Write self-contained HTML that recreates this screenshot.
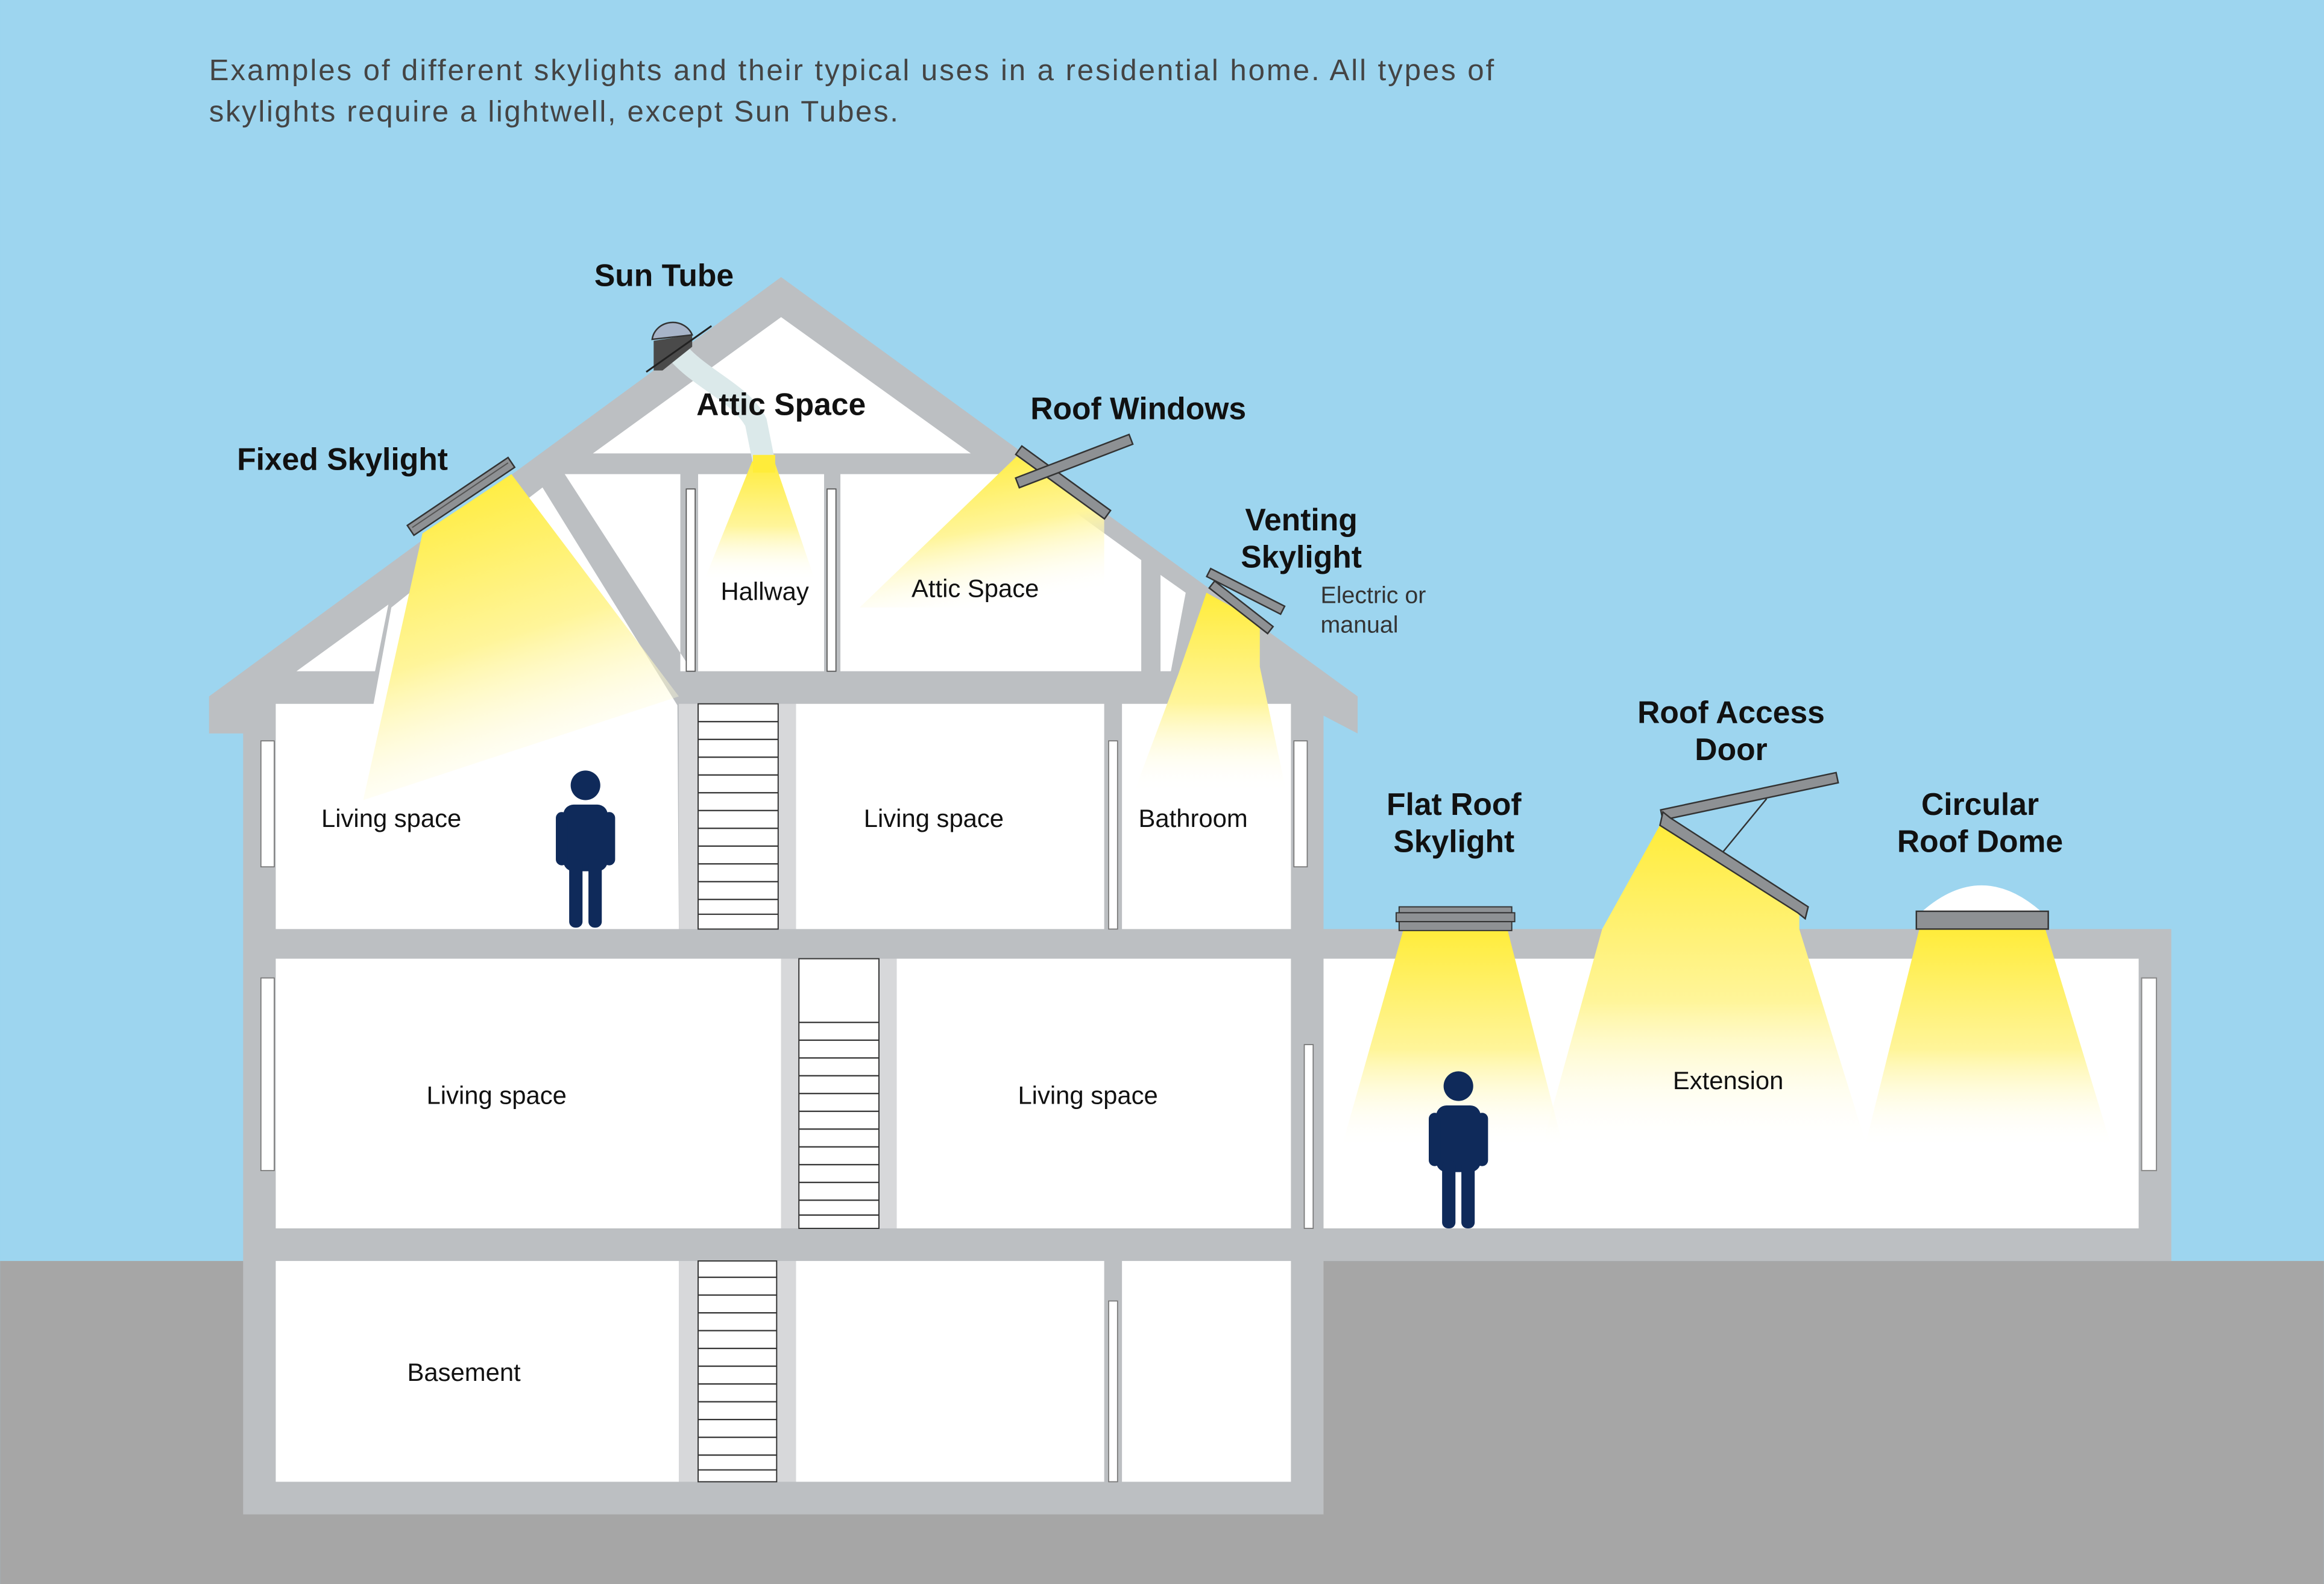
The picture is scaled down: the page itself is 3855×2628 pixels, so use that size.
<!DOCTYPE html>
<html><head><meta charset="utf-8"><style>
html,body{margin:0;padding:0;background:#9dd5ef;}
svg{display:block;}
text{font-family:"Liberation Sans",sans-serif;}
</style></head><body>
<svg width="3855" height="2628" viewBox="0 0 1568 1069" xmlns="http://www.w3.org/2000/svg">
<defs>
<linearGradient id="y" x1="0" y1="0" x2="0" y2="1">
<stop offset="0" stop-color="#ffec3a"/><stop offset="0.55" stop-color="#fff59a"/><stop offset="1" stop-color="#ffffff" stop-opacity="0"/>
</linearGradient>
<linearGradient id="yd" x1="0.3" y1="0" x2="0.6" y2="1">
<stop offset="0" stop-color="#ffec3a"/><stop offset="0.5" stop-color="#fff59a"/><stop offset="1" stop-color="#ffffff" stop-opacity="0"/>
</linearGradient>
</defs>
<rect x="0" y="0" width="1568" height="1069" fill="#9dd5ef"/>
<rect x="0" y="851" width="1568" height="218" fill="#a6a6a6"/>

<text x="141" y="54" font-size="20" fill="#444" textLength="867" lengthAdjust="spacing">Examples of different skylights and their typical uses in a residential home. All types of</text>
<text x="141" y="82" font-size="20" fill="#444" textLength="465" lengthAdjust="spacing">skylights require a lightwell, except Sun Tubes.</text>

<polygon points="141,470 527,187 916,470 916,495 893,483 893,1022 164,1022 164,495 141,495" fill="#bcbfc2"/>
<rect x="871" y="627" width="594" height="224" fill="#bcbfc2"/>
<rect x="893" y="647" width="550" height="182" fill="#fff"/>
<rect x="1445" y="660" width="10" height="130" fill="#fff" stroke="#888" stroke-width="0.8"/>

<polygon points="400,306 527,214 655,306" fill="#fff"/>
<polygon points="186,627 186,475 252,475 264,410 345,345 366,329 457,476 458,627" fill="#fff"/>
<polygon points="200,453 262,408 253,453" fill="#fff"/>
<polygon points="381,320 459,320 459,453 467,453" fill="#fff"/>
<rect x="471" y="320" width="85" height="133" fill="#fff"/>
<polygon points="567,320 690,320 770,378 770,453 567,453" fill="#fff"/>
<polygon points="783,388 800,400 790,453 783,453" fill="#fff"/>
<rect x="463" y="330" width="6" height="123" fill="#fff" stroke="#555" stroke-width="0.7"/>
<rect x="558" y="330" width="6" height="123" fill="#fff" stroke="#555" stroke-width="0.7"/>
<rect x="537" y="475" width="208" height="152" fill="#fff"/>
<rect x="757" y="475" width="114" height="152" fill="#fff"/>
<rect x="748" y="500" width="6" height="127" fill="#fff" stroke="#777" stroke-width="0.7"/>
<rect x="873" y="500" width="9" height="85" fill="#fff" stroke="#777" stroke-width="0.7"/>
<rect x="176" y="500" width="9" height="85" fill="#fff" stroke="#777" stroke-width="0.7"/>
<rect x="458" y="475" width="79" height="152" fill="#d7d8da"/>
<rect x="471" y="475" width="54" height="152" fill="#fff" stroke="#333" stroke-width="0.8"/>
<rect x="186" y="647" width="341" height="182" fill="#fff"/>
<rect x="605" y="647" width="266" height="182" fill="#fff"/>
<rect x="527" y="647" width="78" height="182" fill="#d7d8da"/>
<rect x="539" y="647" width="54" height="182" fill="#fff" stroke="#333" stroke-width="0.8"/>
<rect x="176" y="660" width="9" height="130" fill="#fff" stroke="#777" stroke-width="0.7"/>
<rect x="880" y="705" width="6" height="124" fill="#fff" stroke="#777" stroke-width="0.7"/>
<rect x="186" y="851" width="272" height="149" fill="#fff"/>
<rect x="537" y="851" width="208" height="149" fill="#fff"/>
<rect x="757" y="851" width="114" height="149" fill="#fff"/>
<rect x="458" y="851" width="79" height="149" fill="#d7d8da"/>
<rect x="471" y="851" width="53" height="149" fill="#fff" stroke="#333" stroke-width="0.8"/>
<rect x="748" y="878" width="6" height="122" fill="#fff" stroke="#777" stroke-width="0.7"/>

<g stroke="#333" stroke-width="0.9">
<line x1="471" y1="487" x2="525" y2="487"/><line x1="471" y1="499" x2="525" y2="499"/><line x1="471" y1="511" x2="525" y2="511"/><line x1="471" y1="523" x2="525" y2="523"/><line x1="471" y1="535" x2="525" y2="535"/><line x1="471" y1="547" x2="525" y2="547"/><line x1="471" y1="559" x2="525" y2="559"/><line x1="471" y1="571" x2="525" y2="571"/><line x1="471" y1="583" x2="525" y2="583"/><line x1="471" y1="595" x2="525" y2="595"/><line x1="471" y1="607" x2="525" y2="607"/><line x1="471" y1="617" x2="525" y2="617"/>
<line x1="539" y1="690" x2="593" y2="690"/><line x1="539" y1="702" x2="593" y2="702"/><line x1="539" y1="714" x2="593" y2="714"/><line x1="539" y1="726" x2="593" y2="726"/><line x1="539" y1="738" x2="593" y2="738"/><line x1="539" y1="750" x2="593" y2="750"/><line x1="539" y1="762" x2="593" y2="762"/><line x1="539" y1="774" x2="593" y2="774"/><line x1="539" y1="786" x2="593" y2="786"/><line x1="539" y1="798" x2="593" y2="798"/><line x1="539" y1="810" x2="593" y2="810"/><line x1="539" y1="820" x2="593" y2="820"/>
<line x1="471" y1="862" x2="524" y2="862"/><line x1="471" y1="874" x2="524" y2="874"/><line x1="471" y1="886" x2="524" y2="886"/><line x1="471" y1="898" x2="524" y2="898"/><line x1="471" y1="910" x2="524" y2="910"/><line x1="471" y1="922" x2="524" y2="922"/><line x1="471" y1="934" x2="524" y2="934"/><line x1="471" y1="946" x2="524" y2="946"/><line x1="471" y1="958" x2="524" y2="958"/><line x1="471" y1="970" x2="524" y2="970"/><line x1="471" y1="982" x2="524" y2="982"/><line x1="471" y1="992" x2="524" y2="992"/>
</g>

<polygon points="285,360 345,320 458,470 245,540" fill="url(#yd)"/>
<polygon points="508,310 522,310 550,392 475,392" fill="url(#y)"/>
<polygon points="686,308 745,350 745,410 580,410" fill="url(#yd)"/>
<polygon points="814,400 850,420 850,450 868,535 765,535 795,455" fill="url(#y)"/>
<polygon points="947,627 1017,627 1055,775 905,775" fill="url(#y)"/>
<polygon points="1121,555 1214,617 1214,627 1260,775 1040,775 1081,627" fill="url(#y)"/>
<polygon points="1295,627 1380,627 1425,775 1258,775" fill="url(#y)"/>

<path d="M455,235 C470,255 500,265 510,285 L515,310" stroke="#dbe9ea" stroke-width="15" fill="none"/>
<polygon points="441,230 467,226 467,234 447,250 441,250" fill="#4a4a4a"/>
<line x1="436" y1="251" x2="480" y2="220" stroke="#222" stroke-width="1.2"/>
<path d="M440,229 A14,13 0 0 1 467,226 Z" fill="#a7b4c8" stroke="#333" stroke-width="1"/>
<rect x="508" y="307" width="15" height="12" fill="#ffec3a"/>

<g transform="rotate(-34 311 335)"><rect x="270" y="331" width="82" height="8" fill="#8e9194" stroke="#333" stroke-width="1"/><line x1="272" y1="334" x2="350" y2="334" stroke="#555" stroke-width="0.8"/></g>
<g transform="rotate(36 717 326)"><rect x="680" y="322" width="74" height="7" fill="#8e9194" stroke="#333" stroke-width="1"/></g>
<g transform="rotate(-21 724 312)"><rect x="684" y="308" width="82" height="7" fill="#8e9194" stroke="#333" stroke-width="1"/></g>
<g transform="rotate(27 840 400)"><rect x="812" y="396" width="56" height="6" fill="#8e9194" stroke="#333" stroke-width="1"/></g>
<g transform="rotate(38 836 410)"><rect x="812" y="406" width="50" height="6" fill="#8e9194" stroke="#333" stroke-width="1"/></g>

<rect x="944" y="612" width="76" height="4" fill="#8e9194" stroke="#333" stroke-width="0.8"/>
<rect x="942" y="616" width="80" height="6" fill="#8e9194" stroke="#333" stroke-width="0.8"/>
<rect x="944" y="622" width="76" height="6" fill="#8e9194" stroke="#333" stroke-width="0.8"/>
<g transform="rotate(-12 1180 538)"><rect x="1120" y="534" width="121" height="7" fill="#8e9194" stroke="#333" stroke-width="1"/></g>
<line x1="1192" y1="539" x2="1160" y2="578" stroke="#333" stroke-width="1"/>
<polygon points="1122,548 1127,552 1220,612 1218,620 1213,616 1120,557" fill="#8e9194" stroke="#333" stroke-width="1"/>
<path d="M1297,615 Q1337,580 1377,615 Z" fill="#fff"/>
<rect x="1293" y="615" width="89" height="12" fill="#8e9194" stroke="#333" stroke-width="1"/>

<g fill="#0f2a5a">
<circle cx="395" cy="530" r="10"/>
<rect x="380" y="543" width="30" height="45" rx="7"/>
<rect x="375" y="548" width="8" height="36" rx="4"/><rect x="407" y="548" width="8" height="36" rx="4"/>
<rect x="384" y="580" width="9" height="46" rx="4"/><rect x="397" y="580" width="9" height="46" rx="4"/>
<circle cx="984" cy="733" r="10"/>
<rect x="969" y="746" width="30" height="45" rx="7"/>
<rect x="964" y="751" width="8" height="36" rx="4"/><rect x="996" y="751" width="8" height="36" rx="4"/>
<rect x="973" y="783" width="9" height="46" rx="4"/><rect x="986" y="783" width="9" height="46" rx="4"/>
</g>

<g font-weight="bold" font-size="21" fill="#111" text-anchor="middle">
<text x="448" y="193">Sun Tube</text>
<text x="231" y="317">Fixed Skylight</text>
<text x="768" y="283">Roof Windows</text>
<text x="878" y="358">Venting</text><text x="878" y="383">Skylight</text>
<text x="1168" y="488">Roof Access</text><text x="1168" y="513">Door</text>
<text x="981" y="550">Flat Roof</text><text x="981" y="575">Skylight</text>
<text x="1336" y="550">Circular</text><text x="1336" y="575">Roof Dome</text>
</g>
<text x="527" y="280" font-size="21" fill="#111" text-anchor="middle" font-weight="bold">Attic Space</text>
<text x="891" y="407" font-size="16" fill="#333">Electric or</text>
<text x="891" y="427" font-size="16" fill="#333">manual</text>
<g font-size="17" fill="#111" text-anchor="middle">
<text x="516" y="405">Hallway</text>
<text x="658" y="403">Attic Space</text>
<text x="264" y="558">Living space</text>
<text x="630" y="558">Living space</text>
<text x="805" y="558">Bathroom</text>
<text x="335" y="745">Living space</text>
<text x="734" y="745">Living space</text>
<text x="1166" y="735">Extension</text>
<text x="313" y="932">Basement</text>
</g>
</svg>
</body></html>
